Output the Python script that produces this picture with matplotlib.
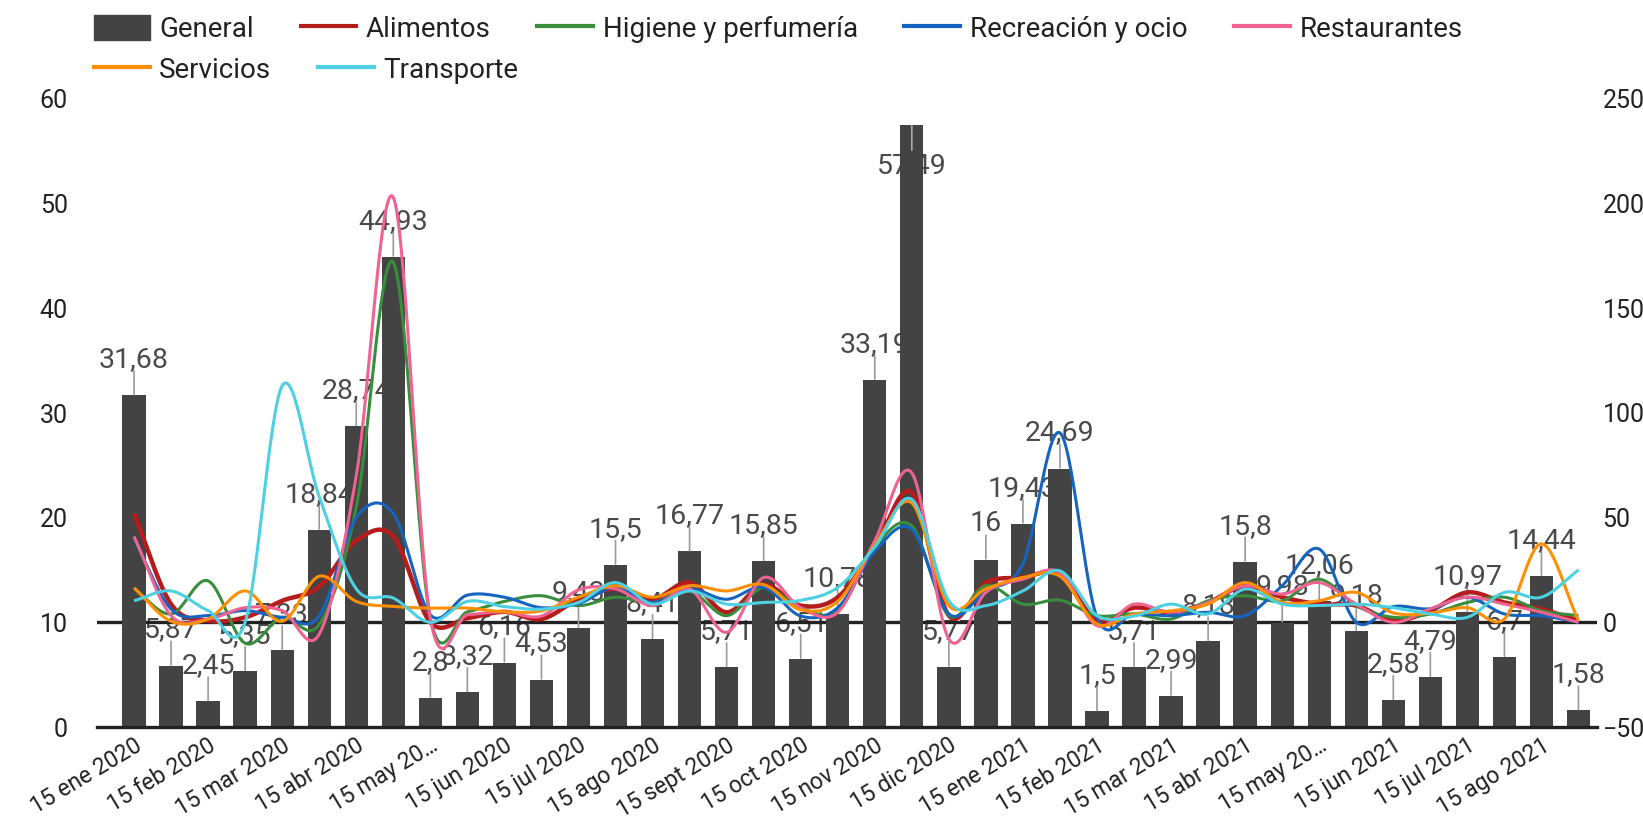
import numpy as np
import matplotlib; matplotlib.use("Agg"); import matplotlib.pyplot as plt
from matplotlib.patches import Patch
from matplotlib.lines import Line2D
plt.rcParams.update({"font.family": ["Roboto", "DejaVu Sans"], "font.size": 18})

# ---- data ----
general = [31.68, 5.87, 2.45, 5.35, 7.33, 18.84, 28.74, 44.93, 2.8, 3.32,
           6.16, 4.53, 9.43, 15.5, 8.41, 16.77, 5.71, 15.85, 6.51, 10.78,
           33.19, 57.49, 5.77, 16, 19.43, 24.69, 1.5, 5.71, 2.99, 8.18,
           15.8, 9.98, 12.06, 9.18, 2.58, 4.79, 10.97, 6.7, 14.44, 1.58]
alimentos = [52, 8.7, 0.8, 2.4, 10.3, 17, 39, 41, 0, 2,
             5, 1.6, 11, 16, 11, 19, 4.8, 18, 8, 12,
             35.7, 62, 3.2, 19, 21.4, 23, 0.8, 7, 4.8, 9.5,
             17.5, 12, 8.7, 8, 0.8, 5.5, 14.3, 9.5, 6.3, 0.8]
higiene = [16, 4, 19.8, -10, 2.4, -1, 55, 172, 2, 5,
           10, 12.7, 8, 12, 9.5, 15, 3.2, 16.7, 7, 5.5,
           36, 46, 3.2, 17.5, 8.7, 10.6, 3.2, 4, 1.6, 10.3,
           12.7, 10.3, 20.6, 8, 2.4, 4, 9.5, 12, 5.5, 3.2]
recreacion = [40, 6.3, 3.2, 5.6, 2.4, 3, 50, 52, 3.6, 13,
              12, 7, 9, 16.7, 9.5, 16, 11, 16.7, 3, 7,
              34, 44.4, 4, 15, 28, 90.5, 2.4, 4, 3.2, 4.8,
              3.2, 17.5, 35, 0, 7.5, 6.5, 12, 4, 3.2, 0]
restaurantes = [41, 3.2, 1.6, 7, 5.6, -5.6, 70, 203, 2, 3.6,
                5, 3, 15.5, 16, 8, 16, -4.8, 21.4, 7, 4.8,
                39, 71.4, -8, 14.3, 20.6, 23.8, -1.6, 8.7, 4.8, 9.5,
                17.5, 13.5, 19, 8.7, 0, 6.5, 12, 8.7, 4.8, 0]
servicios = [16.5, 0.5, 1.6, 15, 0.5, 22, 10, 7.6, 6.8, 6.8,
             5, 5.5, 12, 17.5, 12, 17.5, 15, 18, 6, 10,
             37, 57, 8, 16, 21.4, 22, -0.8, 4, 5.5, 8.7,
             19, 9.5, 10.3, 14.3, 4.5, 4.4, 7, 1.6, 37.5, 0.8]
transporte = [10.3, 15, 5.6, 0, 113, 60, 16, 11.6, 0, 10,
              7.5, 6.3, 9.5, 19, 8.7, 15, 8.7, 9.5, 10.5, 16.7,
              36, 58.7, 10.3, 8, 15, 24.6, 3.2, 3, 8.7, 4,
              15.9, 8.7, 8, 8.7, 7, 4, 2.4, 14.3, 12, 25]
tick_labels = ["15 ene 2020", "15 feb 2020", "15 mar 2020", "15 abr 2020", "15 may 20…",
               "15 jun 2020", "15 jul 2020", "15 ago 2020", "15 sept 2020", "15 oct 2020",
               "15 nov 2020", "15 dic 2020", "15 ene 2021", "15 feb 2021", "15 mar 2021",
               "15 abr 2021", "15 may 20…", "15 jun 2021", "15 jul 2021", "15 ago 2021"]

series = [("Alimentos", alimentos, "#b71c1c", 3.2),
          ("Higiene y perfumería", higiene, "#388e3c", 2.2),
          ("Recreación y ocio", recreacion, "#1565c0", 2.2),
          ("Restaurantes", restaurantes, "#f06292", 2.2),
          ("Servicios", servicios, "#ff8f00", 2.2),
          ("Transporte", transporte, "#4dd0e1", 2.2)]

def smooth(y, n=30):
    # catmull-rom through the points, like the sheet's smooth line
    y = np.asarray(y, float); p = np.concatenate([[2*y[0]-y[1]], y, [2*y[-1]-y[-2]]])
    t = np.linspace(0, 1, n, endpoint=False); xs = []; ys = []
    for i in range(len(y)-1):
        p0, p1, p2, p3 = p[i], p[i+1], p[i+2], p[i+3]; m1 = (p2-p0)/2; m2 = (p3-p1)/2
        h = (2*t**3-3*t**2+1)*p1 + (t**3-2*t**2+t)*m1 + (-2*t**3+3*t**2)*p2 + (t**3-t**2)*m2
        xs.append(i+t); ys.append(h)
    return np.append(np.concatenate(xs), len(y)-1), np.append(np.concatenate(ys), y[-1])

x = np.arange(len(general))
fig = plt.figure(figsize=(16.43, 8.21), dpi=100)
ax = fig.add_axes([97/1643, 1-727/821, 1500/1643, 628/821])
ax2 = ax.twinx()
BAR = "#434343"; TXT = "#222222"; LBL = "#4a4a4a"

ax.bar(x, general, width=0.63, color=BAR, zorder=2)
ax.axhline(10, color=TXT, lw=2.4, zorder=1.5)
for xi, v in zip(x, general):
    s = f"{v:g}".replace(".", ",")
    if v > 55:
        ax.annotate("", (xi, v), xytext=(0, -18), textcoords="offset points",
                    arrowprops=dict(arrowstyle="-", color="#aaaaaa", lw=1.2, shrinkA=0, shrinkB=0), zorder=3)
        ax.annotate(s, (xi, v), xytext=(0, -34.5), textcoords="offset points", ha="center",
                    va="baseline", fontsize=20.5, color=LBL, zorder=1)
    else:
        ax.annotate("", (xi, v), xytext=(0, 17.5), textcoords="offset points",
                    arrowprops=dict(arrowstyle="-", color="#999999", lw=1.2, shrinkA=0, shrinkB=0.5), zorder=3)
        ax.annotate(s, (xi, v), xytext=(0, 20.2), textcoords="offset points", ha="center",
                    va="baseline", fontsize=20.5, color=LBL, zorder=1)

for name, vals, col, lw in series:
    sx, sy = smooth(vals)
    ax2.plot(sx, sy, color=col, lw=lw, solid_capstyle="butt")

ax.set_xlim(-1, 39.5); ax.set_ylim(0, 60); ax2.set_ylim(-50, 250)
ax.set_yticks(range(0, 61, 10)); ax2.set_yticks(range(-50, 251, 50))
ax.set_xticks(x[::2]); ax.set_xticklabels(tick_labels, rotation=31, ha="right", va="top",
                                          rotation_mode="anchor", color=TXT, fontsize=16.5)
ax.tick_params(axis="x", length=0, pad=5)
ax.tick_params(axis="y", length=0, pad=21, labelcolor=TXT)
ax2.tick_params(axis="y", length=0, pad=4, labelcolor=TXT)
for a in (ax, ax2):
    for sp in a.spines.values(): sp.set_visible(False)
ax.spines["bottom"].set_visible(True); ax.spines["bottom"].set_linewidth(2.4); ax.spines["bottom"].set_color(TXT)
ax.spines["bottom"].set_zorder(4)

# legend laid out row by row like the original
h1 = [Patch(color=BAR, label="General")] + [Line2D([], [], color=c, lw=3, label=n) for n, _, c, _ in series[:4]]
h2 = [Line2D([], [], color=c, lw=3, label=n) for n, _, c, _ in series[4:]]
kw = dict(frameon=False, fontsize=20, handlelength=2.0, handleheight=1.0, handletextpad=0.35,
          columnspacing=1.68, borderaxespad=0, borderpad=0, labelcolor=TXT)
leg1 = fig.legend(handles=h1, ncol=5, loc="center left", bbox_to_anchor=(94/1643, 1-29/821), **kw)
leg2 = fig.legend(handles=h2, ncol=2, loc="center left", bbox_to_anchor=(94/1643, 1-70/821), **kw)

fig.savefig("out.png", dpi=100)
